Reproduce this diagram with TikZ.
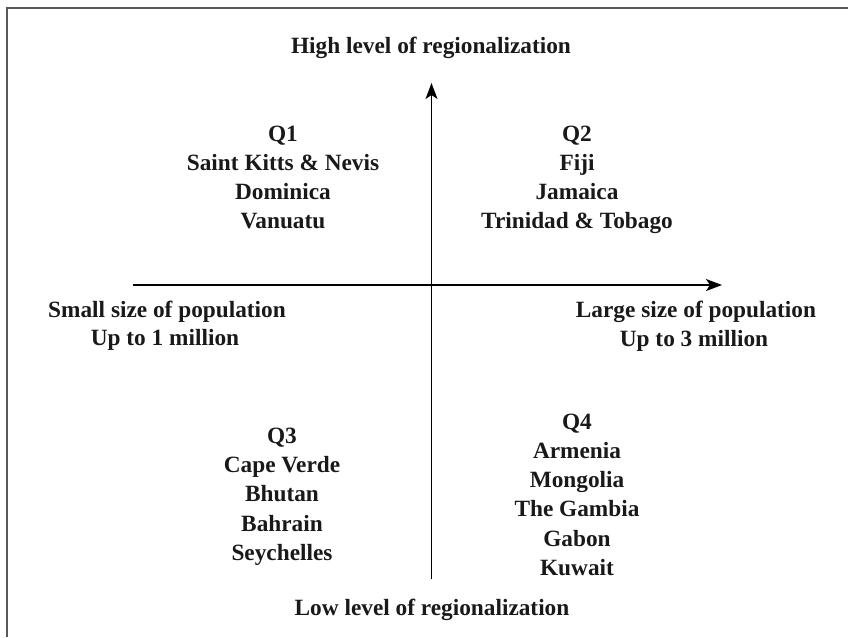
\documentclass[tikz,border=0pt]{standalone}
\usepackage{fontspec}
\setmainfont{Liberation Serif}
\usetikzlibrary{arrows.meta}

\begin{document}
\begin{tikzpicture}[x=1pt, y=-1pt,
        every node/.style={inner sep=0pt, anchor=base, text=black!90,
            font=\fontsize{23.3}{28}\selectfont\bfseries},
        axis/.style={line width=1.5pt, -{Stealth[length=16pt, width=12pt, inset=4pt]}},
        frame/.style={draw=black!65, line width=2pt}]
        \useasboundingbox (0,0) rectangle (848,637);

        % Frame (top and left edge only)
        \coordinate (fbl) at (6.5,637);
        \coordinate (ftl) at (6.5,7.5);
        \coordinate (ftr) at (848,7.5);
        \draw[frame] (fbl) -- (ftl) -- (ftr);

        % Axes
        \coordinate (vbot) at (431.5,579);
        \coordinate (vtop) at (431.5,83);
        \coordinate (hleft) at (133,285);
        \coordinate (hright) at (722,285);
        \draw[axis] (vbot) -- (vtop);
        \draw[axis] (hleft) -- (hright);

        % Axis labels
        \node (high) at (431,53) {High level of regionalization};
        \node (low) at (432,615) {Low level of regionalization};
        \node (small) at (167,317) {Small size of population};
        \node (smallup) at (165,345) {Up to 1 million};
        \node (large) at (696,317) {Large size of population};
        \node (largeup) at (694,346) {Up to 3 million};

        % Quadrants
        \foreach \name [count=\i from 0] in {Q1, Saint Kitts \& Nevis, Dominica, Vanuatu} {
            \node (qa\i) at (283,{141+29.3*\i}) {\name};
        }
        \foreach \name [count=\i from 0] in {Q2, Fiji, Jamaica, Trinidad \& Tobago} {
            \node (qb\i) at (577,{141+29.3*\i}) {\name};
        }
        \foreach \name [count=\i from 0] in {Q3, Cape Verde, Bhutan, Bahrain, Seychelles} {
            \node (qc\i) at (282,{443+29.4*\i}) {\name};
        }
        \foreach \name [count=\i from 0] in {Q4, Armenia, Mongolia, The Gambia, Gabon, Kuwait} {
            \node (qd\i) at (577,{429+29.3*\i}) {\name};
        }
    \end{tikzpicture}
\end{document}
